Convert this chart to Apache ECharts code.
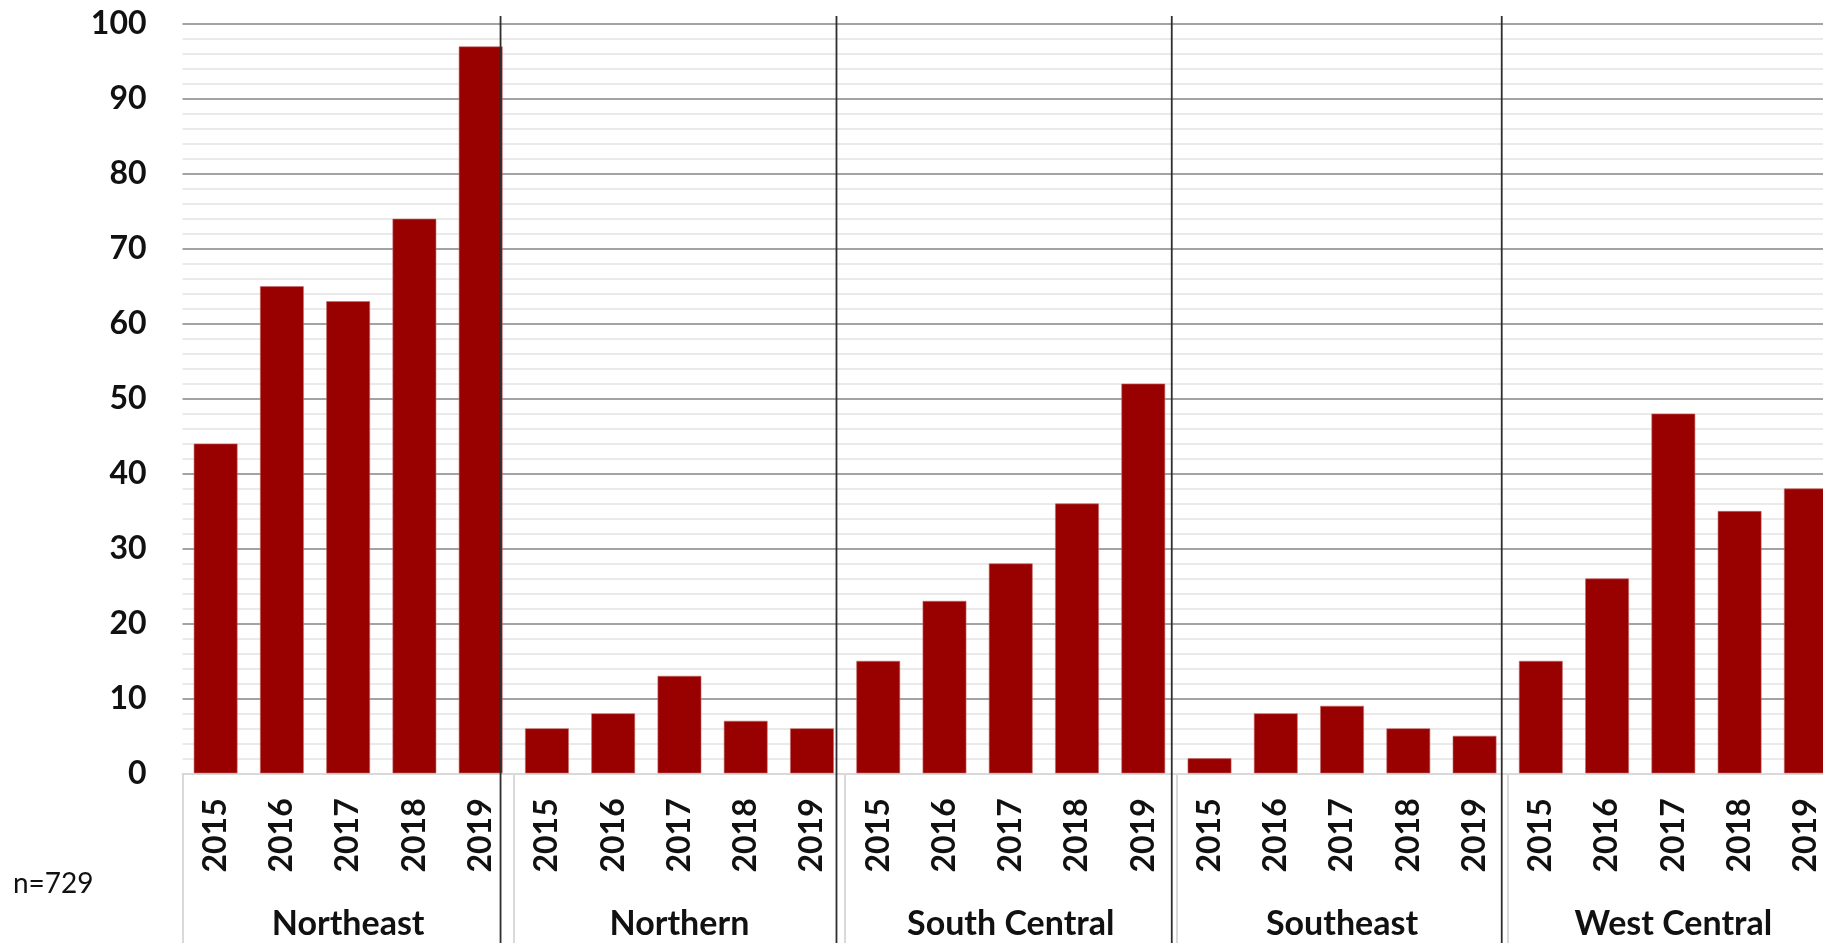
<!DOCTYPE html>
<html>
<head>
<meta charset="utf-8">
<title>Cases by region and year</title>
<script src="https://cdn.jsdelivr.net/npm/echarts@6/dist/echarts.min.js"></script>
<style>
  html, body { margin: 0; padding: 0; background: #ffffff; overflow: hidden; }
  /* The plot runs slightly past the right edge of the window, so the canvas is wider than the view */
  #chart { width: 1839px; height: 943px; }
</style>
</head>
<body>
<div id="chart"></div>
<script>
// Regions (outer category level) and years (inner level)
const regions = ['Northeast', 'Northern', 'South Central', 'Southeast', 'West Central'];
const years = ['2015', '2016', '2017', '2018', '2019'];

// Counts per region, one value per year
const northeast = [44, 65, 63, 74, 97];
const northern = [6, 8, 13, 7, 6];
const southCentral = [15, 23, 28, 36, 52];
const southeast = [2, 8, 9, 6, 5];
const westCentral = [15, 26, 48, 35, 38];

// Y axis range and tick step
const yMin = 0;
const yMax = 100;
const yStep = 10;

// Hand-placed region divider lines, in units of year slots from the left
const regionDividers = [4.80, 9.87, 14.93, 19.91];

const sampleNote = 'n=729';

// Flatten into one bar per region/year slot
const regionValues = [northeast, northern, southCentral, southeast, westCentral];
const slotLabels = [];
const slotValues = [];
regionValues.forEach(vals => {
  vals.forEach((v, i) => { slotLabels.push(years[i]); slotValues.push(v); });
});

const FONT = 'Lato';
const chart = echarts.init(document.getElementById('chart'), null, { renderer: 'canvas' });

chart.setOption({
  backgroundColor: '#ffffff',
  animation: false,
  title: {
    text: sampleNote,
    left: 13,
    top: 870,
    padding: 0,
    textStyle: { fontFamily: FONT, fontSize: 28, fontWeight: 'normal', color: '#111111' }
  },
  grid: { left: 182.5, top: 24, right: 0, bottom: 169.7, containLabel: false },
  xAxis: [
    {
      type: 'category',
      data: slotLabels,
      position: 'bottom',
      axisLine: { show: true, lineStyle: { color: '#d9d9d9', width: 2 } },
      axisTick: { show: false },
      axisLabel: {
        interval: 0,
        rotate: 90,
        margin: 25,
        fontFamily: FONT,
        fontSize: 32,
        fontWeight: 'bold',
        color: '#111111'
      },
      splitLine: { show: false }
    },
    {
      type: 'category',
      data: regions,
      position: 'bottom',
      axisLine: { show: false },
      axisTick: { show: true, interval: 0, length: 172, lineStyle: { color: '#d9d9d9', width: 2 } },
      axisLabel: {
        interval: 0,
        margin: 134,
        fontFamily: FONT,
        fontSize: 34,
        fontWeight: 'bold',
        color: '#111111'
      },
      splitLine: { show: false }
    },
    {
      type: 'value',
      min: 0,
      max: slotLabels.length,
      show: false
    }
  ],
  yAxis: {
    type: 'value',
    min: yMin,
    max: yMax,
    interval: yStep,
    axisLine: { show: false },
    axisTick: { show: false },
    axisLabel: {
      margin: 36,
      fontFamily: FONT,
      fontSize: 32,
      fontWeight: 'bold',
      color: '#111111'
    },
    splitLine: { show: true, lineStyle: { color: '#858585', width: 1.5 } },
    minorTick: { show: false, splitNumber: 5 },
    minorSplitLine: { show: true, lineStyle: { color: '#e4e4e4', width: 1.5 } }
  },
  series: [
    {
      type: 'bar',
      xAxisIndex: 0,
      data: slotValues,
      barCategoryGap: '34%',
      itemStyle: { color: '#990000', borderColor: '#c26a6a', borderWidth: 0.6 },
      z: 2
    },
    {
      type: 'custom',
      xAxisIndex: 2,
      yAxisIndex: 0,
      data: regionDividers,
      clip: false,
      z: 5,
      renderItem: function (params, api) {
        const top = api.coord([api.value(0), yMax]);
        return {
          type: 'line',
          shape: { x1: top[0], y1: top[1] - 8, x2: top[0], y2: api.getHeight() },
          style: { stroke: '#2e2e2e', lineWidth: 1.8 }
        };
      }
    }
  ]
});
</script>
</body>
</html>
